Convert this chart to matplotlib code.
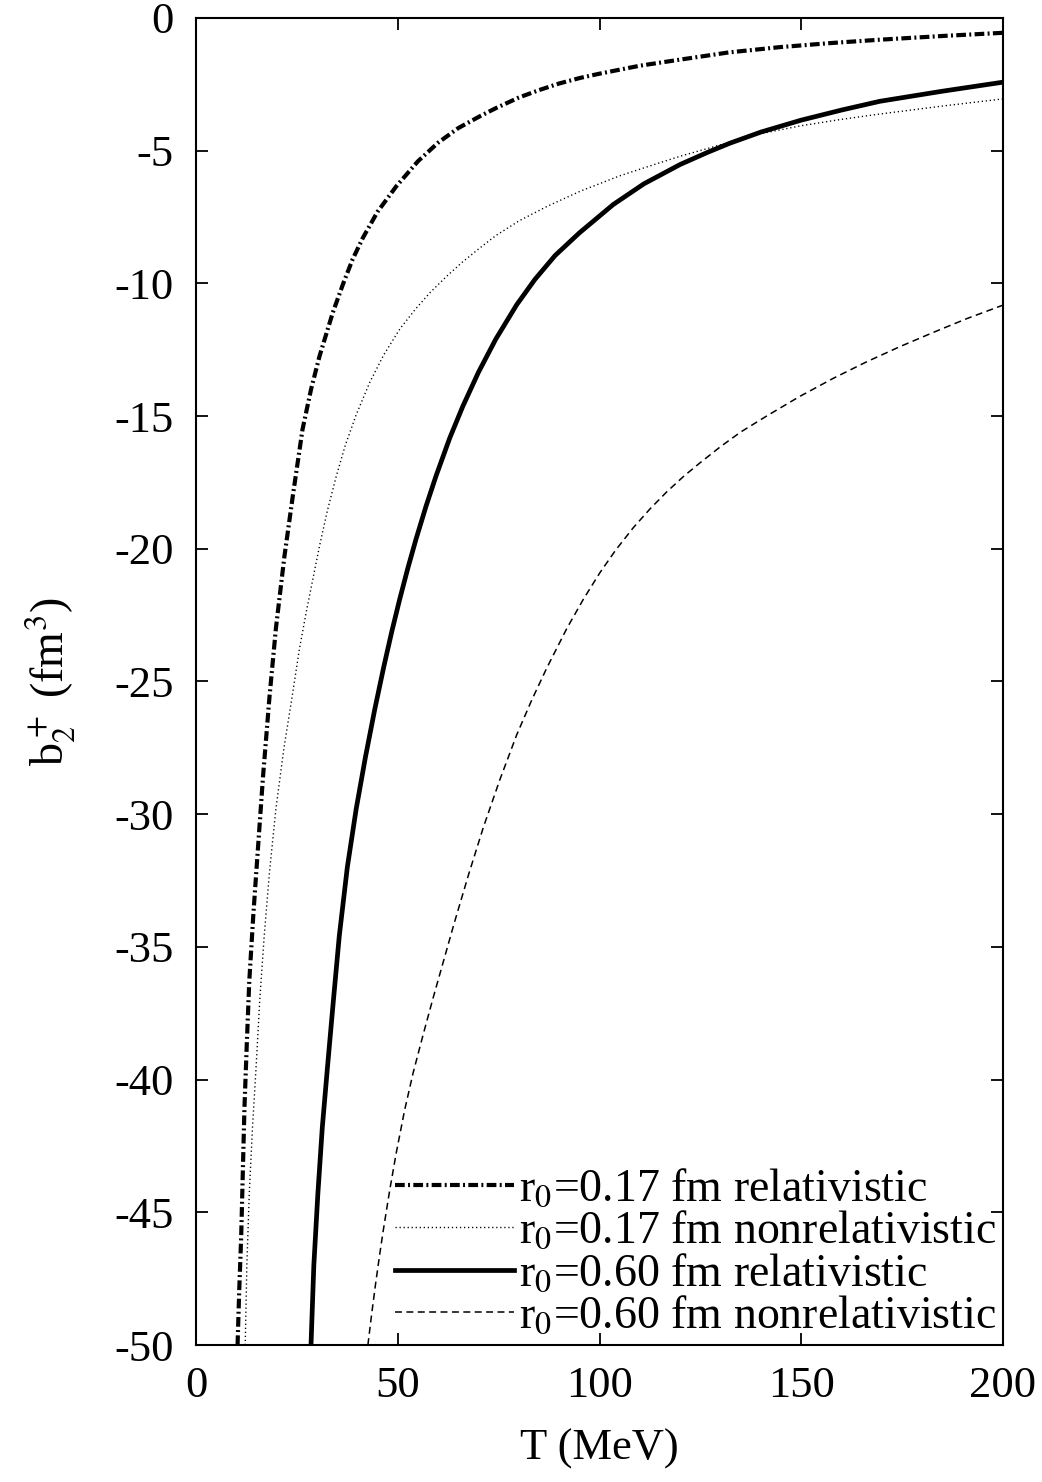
import matplotlib
matplotlib.use("Agg")
import matplotlib.pyplot as plt

plt.rcParams["font.family"] = ["Liberation Serif", "DejaVu Serif"]
plt.rcParams["mathtext.fontset"] = "stix"
plt.rcParams["lines.scale_dashes"] = False

# r0 = 0.17 fm, relativistic
T_017_rel = [10.3, 10.7, 11.2, 11.6, 12.0, 12.6, 13.2, 14.2, 15.3, 16.6, 18.2, 19.8,
             21.9, 24.0, 26.4, 28.5, 30.6, 33.9, 36.5, 38.8, 41.3, 45.0, 49.6, 55.0,
             60.0, 65.0, 70.4, 74.3, 80.0, 85.0, 90.0, 95.2, 100.0, 110.0, 120.0,
             132.0, 144.7, 157.0, 169.5, 185.0, 200.0]
b_017_rel = [-50.0, -48.0, -45.9, -43.5, -41.1, -38.6, -36.3, -33.8, -31.4, -28.6,
             -25.6, -23.0, -20.3, -18.0, -15.5, -14.0, -12.75, -11.1, -10.0, -9.1,
             -8.3, -7.3, -6.35, -5.4, -4.7, -4.15, -3.7, -3.4, -3.0, -2.72, -2.47,
             -2.26, -2.1, -1.8, -1.57, -1.3, -1.1, -0.95, -0.82, -0.68, -0.56]

# r0 = 0.17 fm, nonrelativistic
T_017_non = [12.2, 12.6, 13.2, 14.0, 14.9, 15.8, 16.9, 18.2, 19.8, 21.8, 24.0, 25.6,
             27.3, 30.6, 32.5, 34.7, 37.0, 39.7, 43.0, 46.5, 50.6, 54.5, 58.0, 62.0,
             66.0, 70.4, 74.3, 80.0, 87.0, 95.2, 105.0, 112.0, 120.0, 130.0, 140.0,
             150.0, 160.0, 169.5, 185.0, 200.0]
b_017_non = [-50.0, -47.0, -44.3, -41.8, -39.5, -37.0, -34.6, -32.2, -29.8, -27.5,
             -25.4, -23.8, -22.4, -19.9, -18.6, -17.3, -16.1, -14.95, -13.75, -12.7,
             -11.7, -10.95, -10.35, -9.75, -9.2, -8.66, -8.2, -7.65, -7.1, -6.53,
             -5.95, -5.6, -5.21, -4.78, -4.36, -4.06, -3.82, -3.62, -3.32, -3.05]

# r0 = 0.60 fm, relativistic
T_060_rel = [28.5, 29.2, 30.2, 31.3, 32.6, 34.0, 35.5, 37.5, 39.7, 42.0, 44.3, 46.5,
             48.5, 50.5, 52.5, 54.5, 57.0, 59.5, 62.9, 66.1, 70.0, 74.3, 79.5, 84.0,
             89.0, 95.0, 103.4, 111.0, 120.0, 127.0, 132.3, 140.0, 150.0, 160.0,
             169.5, 185.0, 200.0]
b_060_rel = [-50.0, -47.0, -44.3, -41.8, -39.5, -37.1, -34.6, -32.0, -29.8, -27.84,
             -26.05, -24.47, -23.13, -21.89, -20.73, -19.65, -18.4, -17.25, -15.82,
             -14.64, -13.35, -12.1, -10.8, -9.85, -8.95, -8.1, -7.03, -6.25, -5.52,
             -5.05, -4.72, -4.3, -3.85, -3.47, -3.14, -2.76, -2.42]

# r0 = 0.60 fm, nonrelativistic
T_060_non = [42.6, 43.5, 44.5, 45.5, 46.4, 48.0, 49.6, 51.7, 53.8, 56.3, 58.8, 61.4,
             64.0, 67.5, 71.2, 75.3, 79.5, 83.2, 86.9, 91.9, 96.0, 100.1, 104.0, 108.4,
             112.5, 116.7, 121.0, 125.0, 130.0, 135.0, 141.4, 149.5, 157.9, 166.0,
             174.5, 183.0, 191.0, 200.0]
b_060_non = [-50.0, -48.87, -47.7, -46.61, -45.69, -44.17, -42.78, -41.15, -39.75,
             -38.3, -36.9, -35.5, -34.1, -32.3, -30.5, -28.7, -27.0, -25.7, -24.5,
             -23.0, -21.9, -20.9, -20.05, -19.2, -18.5, -17.85, -17.25, -16.75, -16.15,
             -15.6, -15.0, -14.27, -13.58, -12.97, -12.38, -11.83, -11.33, -10.82]

labels = [
    r"r$_0$=0.17 fm relativistic",
    r"r$_0$=0.17 fm nonrelativistic",
    r"r$_0$=0.60 fm relativistic",
    r"r$_0$=0.60 fm nonrelativistic",
]

fig = plt.figure(figsize=(10.42, 14.82), dpi=100)
ax = fig.add_axes([0.1881, 0.0924, 0.7745, 0.8955])

ax.plot(T_017_rel, b_017_rel, color="black", lw=3.0,
        dashes=(7.0, 2.4, 1.4, 2.4), label=labels[0])
ax.plot(T_017_non, b_017_non, color="black", lw=1.0,
        dashes=(0.9, 2.0), label=labels[1])
ax.plot(T_060_rel, b_060_rel, color="black", lw=3.4, label=labels[2])
ax.plot(T_060_non, b_060_non, color="black", lw=1.1,
        dashes=(5.0, 3.2), label=labels[3])

ax.set_xlim(0, 200)
ax.set_ylim(-50, 0)
ax.set_xticks([0, 50, 100, 150, 200])
ax.set_yticks(range(-50, 1, 5))
ax.set_yticklabels([str(v) for v in range(-50, 1, 5)])

ax.tick_params(direction="in", length=8.6, width=1.3, top=True, right=True,
               labelsize=32)
ax.tick_params(axis="y", pad=16)
ax.tick_params(axis="x", pad=15)
for sp in ax.spines.values():
    sp.set_linewidth(1.5)

ax.set_xlabel("T (MeV)", fontsize=32, labelpad=16)
ax.set_ylabel(r"b$_2^+$ (fm$^3$)", fontsize=33, labelpad=26)

leg = ax.legend(loc="lower right", fontsize=33, frameon=False,
                handlelength=2.6, handletextpad=0.1, labelspacing=0.0,
                borderaxespad=0.05, borderpad=0.1)

fig.savefig("out.png", dpi=100)
